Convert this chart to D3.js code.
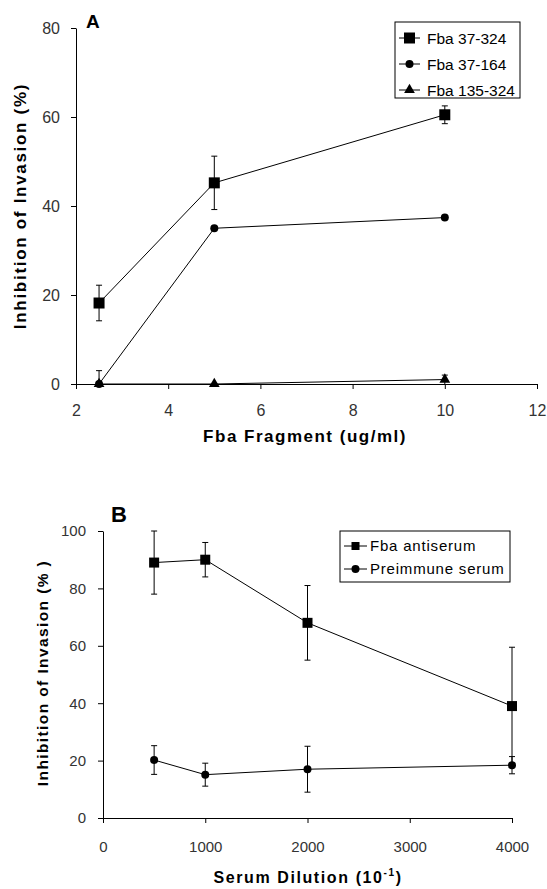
<!DOCTYPE html>
<html>
<head>
<meta charset="utf-8">
<script src="https://cdn.jsdelivr.net/npm/d3@7"></script>
<style>
  body { margin: 0; background: #fff; }
  text { font-family: "Liberation Sans", Arial, sans-serif; }
</style>
</head>
<body>
<div id="wrapper"></div>
<script>
// panel A data
const concA = [2.5, 5, 10];
const fba37_324 = [18.2, 45.2, 60.5];
const fba37_324Err = [4, 6, 2];
const fba37_164 = [0, 35, 37.4];
const fba37_164Err = [3, 0, 0];
const fba135_324 = [0, 0, 1];
const fba135_324Err = [0, 0, 1];
const seriesNamesA = ["Fba 37-324", "Fba 37-164", "Fba 135-324"];
const xTicksA = [2, 4, 6, 8, 10, 12];
const yTicksA = [0, 20, 40, 60, 80];

// panel B data
const dilutionB = [500, 1000, 2000, 4000];
const antiserum = [89, 90, 68, 39];
const antiserumErr = [11, 6, 13, 20.5];
const preimmune = [20.2, 15.1, 17, 18.4];
const preimmuneErr = [5, 4, 8, 3];
const seriesNamesB = ["Fba antiserum", "Preimmune serum"];
const xTicksB = [0, 1000, 2000, 3000, 4000];
const yTicksB = [0, 20, 40, 60, 80, 100];

const svg = d3.select("#wrapper").append("svg")
    .attr("width", 547)
    .attr("height", 889);

svg.append("rect").attr("width", 547).attr("height", 889).attr("fill", "#fff");

function drawMarker(g, shape, x, y, size) {
    if (shape === "square") {
        g.append("rect")
            .attr("x", x - size / 2).attr("y", y - size / 2)
            .attr("width", size).attr("height", size)
            .attr("fill", "#000");
    } else if (shape === "circle") {
        g.append("circle").attr("cx", x).attr("cy", y).attr("r", size / 2).attr("fill", "#000");
    } else {
        const sym = d3.symbol().type(d3.symbolTriangle).size(size * size * 0.5);
        g.append("path").attr("d", sym()).attr("transform", `translate(${x},${y})`).attr("fill", "#000");
    }
}

function drawPanel(cfg) {
    const g = svg.append("g");

    const xScale = d3.scaleLinear().domain(cfg.xDomain).range(cfg.xRange);
    const yScale = d3.scaleLinear().domain(cfg.yDomain).range(cfg.yRange);

    const xAxis = g.append("g")
        .attr("transform", `translate(0,${cfg.yRange[0]})`)
        .call(d3.axisBottom(xScale).tickValues(cfg.xTicks).tickSize(5).tickSizeOuter(0).tickPadding(cfg.xPad).tickFormat(d3.format("d")));
    const yAxis = g.append("g")
        .attr("transform", `translate(${cfg.xRange[0]},0)`)
        .call(d3.axisLeft(yScale).tickValues(cfg.yTicks).tickSize(5).tickSizeOuter(0).tickPadding(cfg.yPad));

    [xAxis, yAxis].forEach(a => {
        a.selectAll("path, line").attr("stroke", "#000").attr("stroke-width", 1);
        a.selectAll("text")
            .attr("font-family", "'Liberation Sans', Arial, sans-serif")
            .attr("font-size", cfg.tickFont)
            .attr("fill", "#333");
    });

    // draw last series first so the first ones sit on top
    cfg.series.slice().reverse().forEach(s => {
        const pts = cfg.xs.map((x, i) => ({x: x, y: s.values[i], e: s.err[i]}));
        const line = d3.line().x(d => xScale(d.x)).y(d => yScale(d.y));
        g.append("path")
            .attr("d", line(pts))
            .attr("fill", "none")
            .attr("stroke", "#000")
            .attr("stroke-width", 1);

        pts.filter(d => d.e > 0).forEach(d => {
            const cx = xScale(d.x);
            const lo = Math.max(d.y - d.e, cfg.yDomain[0]);
            const y1 = yScale(d.y + d.e), y2 = yScale(lo);
            g.append("line").attr("x1", cx).attr("x2", cx).attr("y1", y1).attr("y2", y2).attr("stroke", "#000");
            const caps = lo > cfg.yDomain[0] ? [y1, y2] : [y1];
            caps.forEach(yy => {
                g.append("line").attr("x1", cx - 3).attr("x2", cx + 3).attr("y1", yy).attr("y2", yy).attr("stroke", "#000");
            });
        });

        pts.forEach(d => drawMarker(g, s.shape, xScale(d.x), yScale(d.y), s.size));
    });

    // legend
    const lg = cfg.legend;
    g.append("rect")
        .attr("x", lg.x).attr("y", lg.y)
        .attr("width", lg.w).attr("height", lg.h)
        .attr("fill", "#fff").attr("stroke", "#000").attr("stroke-width", 1);
    cfg.series.forEach((s, i) => {
        const yy = lg.y + lg.rowTop + i * lg.rowStep;
        g.append("line")
            .attr("x1", lg.x + 4).attr("x2", lg.x + 4 + lg.lineLen)
            .attr("y1", yy).attr("y2", yy)
            .attr("stroke", "#000");
        drawMarker(g, s.shape, lg.x + 4 + lg.lineLen / 2, yy, s.legendSize);
        g.append("text")
            .attr("x", lg.x + lg.textX).attr("y", yy)
            .attr("dy", "0.36em")
            .attr("font-size", lg.font)
            .attr("letter-spacing", lg.spacing)
            .attr("fill", "#000")
            .text(cfg.names[i]);
    });

    // panel letter
    g.append("text")
        .attr("x", cfg.letter.x).attr("y", cfg.letter.y)
        .attr("font-size", cfg.letter.size)
        .attr("font-weight", "bold")
        .text(cfg.letter.text);

    // axis titles
    const xt = g.append("text")
        .attr("x", cfg.xTitle.x).attr("y", cfg.xTitle.y)
        .attr("text-anchor", "middle")
        .attr("font-size", cfg.xTitle.size)
        .attr("font-weight", "bold")
        .attr("letter-spacing", cfg.xTitle.spacing);
    xt.append("tspan").text(cfg.xTitle.text);
    if (cfg.xTitle.sup) {
        xt.append("tspan").attr("dy", -7).attr("font-size", 10).text(cfg.xTitle.sup);
        xt.append("tspan").attr("dy", 7).text(")");
    }

    g.append("text")
        .attr("transform", `translate(${cfg.yTitle.x},${cfg.yTitle.y}) rotate(-90)`)
        .attr("text-anchor", "middle")
        .attr("dy", "0.35em")
        .attr("font-size", cfg.yTitle.size)
        .attr("font-weight", "bold")
        .attr("letter-spacing", cfg.yTitle.spacing)
        .text(cfg.yTitle.text);
}

drawPanel({
    xDomain: [2, 12], xRange: [76, 537],
    yDomain: [0, 80], yRange: [384, 28],
    xTicks: xTicksA, yTicks: yTicksA,
    xPad: 16, yPad: 11, tickFont: 16,
    xs: concA,
    names: seriesNamesA,
    series: [
        {values: fba37_324, err: fba37_324Err, shape: "square", size: 11, legendSize: 11},
        {values: fba37_164, err: fba37_164Err, shape: "circle", size: 8, legendSize: 8},
        {values: fba135_324, err: fba135_324Err, shape: "triangle", size: 10, legendSize: 10}
    ],
    legend: {x: 395, y: 22, w: 125, h: 76, rowTop: 16, rowStep: 26, lineLen: 21, textX: 32, font: 15.5, spacing: 0},
    letter: {x: 86, y: 28, size: 19, text: "A"},
    xTitle: {x: 305, y: 442, size: 17, spacing: 1.5, text: "Fba Fragment (ug/ml)"},
    yTitle: {x: 20, y: 206, size: 17, spacing: 1.7, text: "Inhibition of Invasion (%)"}
});

drawPanel({
    xDomain: [0, 4000], xRange: [103, 512],
    yDomain: [0, 100], yRange: [818, 531],
    xTicks: xTicksB, yTicks: yTicksB,
    xPad: 18, yPad: 12, tickFont: 15,
    xs: dilutionB,
    names: seriesNamesB,
    series: [
        {values: antiserum, err: antiserumErr, shape: "square", size: 10, legendSize: 8},
        {values: preimmune, err: preimmuneErr, shape: "circle", size: 8, legendSize: 8}
    ],
    legend: {x: 340, y: 531, w: 170, h: 51, rowTop: 15, rowStep: 23, lineLen: 23, textX: 30, font: 15, spacing: 0.8},
    letter: {x: 111, y: 522, size: 22, text: "B"},
    xTitle: {x: 308, y: 883, size: 16, spacing: 1.6, text: "Serum Dilution (10", sup: "-1"},
    yTitle: {x: 43, y: 673, size: 15.5, spacing: 1.4, text: "Inhibition of Invasion (% )"}
});
</script>
</body>
</html>
